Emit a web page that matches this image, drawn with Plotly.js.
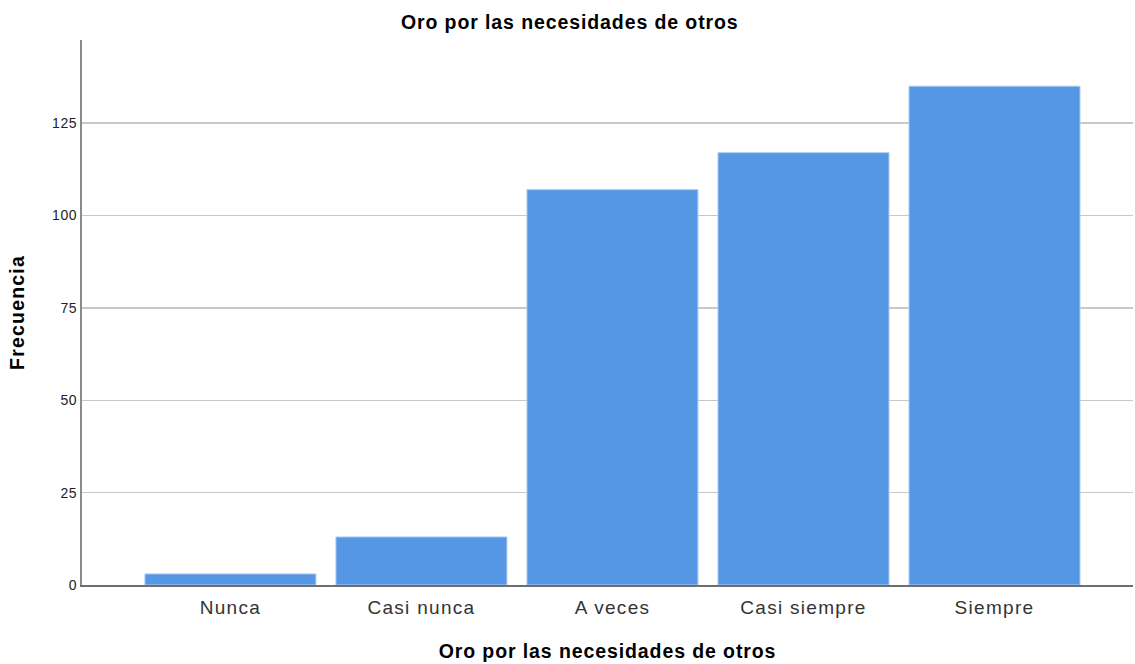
<!DOCTYPE html>
<html><head><meta charset="utf-8">
<script src="https://cdn.plot.ly/plotly-3.0.1.min.js"></script>
<style>
html,body{margin:0;padding:0;background:#fff}
#chart{width:1135px;height:664px}
#chart .gtitle{letter-spacing:0.9px}
#chart .g-xtitle text{letter-spacing:0.9px}
#chart .g-ytitle text{letter-spacing:1.2px}
#chart .xtick text{letter-spacing:1.3px}
#chart .ytick text{letter-spacing:0.6px}
</style>
</head><body><div id="chart"></div>
<script>
const categories = ["Nunca", "Casi nunca", "A veces", "Casi siempre", "Siempre"];
const frecuencia = [3, 13, 107, 117, 135];
const yTicks = [0, 25, 50, 75, 100, 125];

const trace = {
  type: 'bar',
  x: categories,
  y: frecuencia,
  width: 0.895,
  marker: {color: '#5596E5', line: {color: '#A9CBF2', width: 1}},
  hoverinfo: 'x+y'
};
const layout = {
  width: 1135, height: 664,
  margin: {l: 82, r: 2, t: 40, b: 79},
  paper_bgcolor: '#fff', plot_bgcolor: '#fff',
  font: {family: 'Liberation Sans, Arial, sans-serif', color: '#222'},
  title: {text: 'Oro por las necesidades de otros', font: {size: 19.5, color: '#000', weight: 'bold'}, x: 0.502, xanchor: 'center', y: 0.967, yanchor: 'middle'},
  bargap: 0.1,
  showlegend: false,
  xaxis: {
    type: 'category',
    range: [-0.777, 4.725],
    showline: true, linecolor: '#6e6e6e', linewidth: 2,
    showgrid: false, zeroline: false, ticks: '',
    ticklabelstandoff: 4,
    tickfont: {size: 19, color: '#333'},
    title: {text: 'Oro por las necesidades de otros', font: {size: 19.5, color: '#000', weight: 'bold'}, standoff: 28}
  },
  yaxis: {
    range: [0, 147.5],
    tickvals: yTicks,
    showline: true, linecolor: '#8a8a8a', linewidth: 2,
    showgrid: true, gridcolor: '#c8c8c8', gridwidth: 1.5,
    zeroline: false, ticks: '',
    tickfont: {size: 14, color: '#222'},
    title: {text: 'Frecuencia', font: {size: 19.5, color: '#000', weight: 'bold'}, standoff: 24}
  }
};
Plotly.newPlot('chart', [trace], layout, {displayModeBar: false, staticPlot: true});
</script></body></html>
